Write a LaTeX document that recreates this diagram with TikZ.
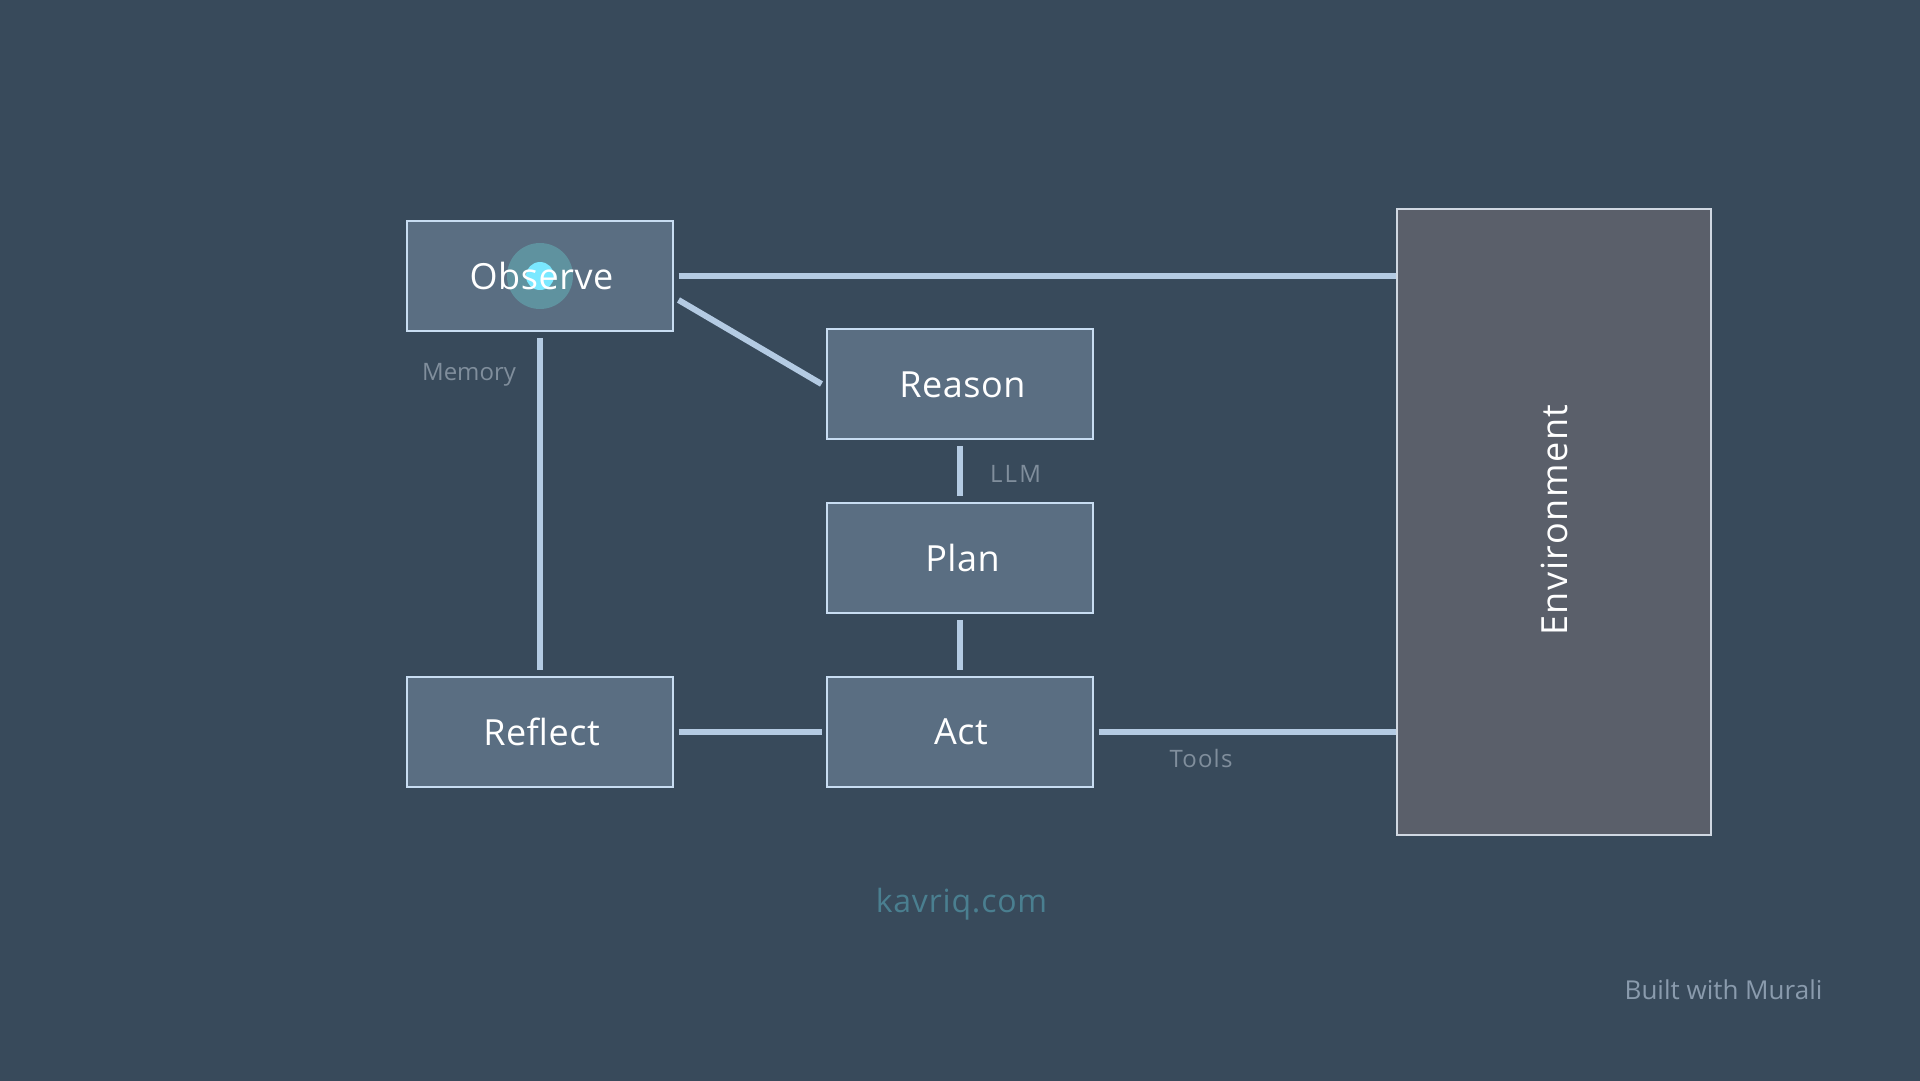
\documentclass[tikz,border=0pt]{standalone}
\usepackage{fontspec}
\setmainfont{Open Sans}
\usetikzlibrary{calc}
\definecolor{bgc}{HTML}{384A5B}
\definecolor{boxfill}{HTML}{5A6E82}
\definecolor{envfill}{HTML}{5A5F6A}
\definecolor{edgec}{HTML}{C8DDF2}
\definecolor{envedge}{HTML}{D0D8E2}
\definecolor{wirec}{HTML}{B4CBE3}
\definecolor{labc}{HTML}{808E9C}
\definecolor{builtc}{HTML}{8A9BAD}
\definecolor{halo}{HTML}{5F929F}
\definecolor{dotc}{HTML}{7AE8FF}
\definecolor{brandc}{HTML}{4A7F90}
\newcommand{\spc}[1]{\addfontfeature{LetterSpace=#1}}
\tikzset{
  stagebox/.style={draw=edgec,fill=boxfill,line width=2pt,minimum width=266pt,minimum height=110pt,inner sep=0pt},
  stagetext/.style={text=white,font=\fontsize{36}{36}\selectfont\spc{1.5},inner sep=0pt},
  wire/.style={draw=wirec,line width=6pt},
  smalllab/.style={text=labc,font=\fontsize{24}{24}\selectfont,inner sep=0pt}
}
\begin{document}
\begin{tikzpicture}[x=1pt,y=-1pt]
\useasboundingbox (0,0) rectangle (1920,1080);
\fill[bgc] (-5,-5) rectangle (1925,1085);
\node[stagebox] (obs) at (540,276) {};
\node[stagebox] (rea) at (960,384) {};
\node[stagebox] (pla) at (960,558) {};
\node[stagebox] (act) at (960,732) {};
\node[stagebox] (ref) at (540,732) {};
\node[draw=envedge,fill=envfill,line width=2pt,minimum width=314pt,minimum height=626pt,inner sep=0pt] (env) at (1554,522) {};
\fill[halo] (obs.center) circle (33pt);
\fill[dotc] (obs.center) circle (14pt);
\node[stagetext] at (541.5,276) (tobs) {Observe};
\node[stagetext] at (962.5,385) (trea) {Reason};
\node[stagetext] at (962.5,558) (tpla) {Plan};
\node[stagetext] at (961,732) (tact) {Act};
\node[stagetext] at (541.5,732) (tref) {Reflect};
\node[stagetext,font=\fontsize{36}{36}\selectfont\spc{4.4},rotate=90] at (1554,520) (tenv) {Environment};
\coordinate (o1) at ($(obs.east)+(4.5,24)$);
\coordinate (r1) at ($(rea.west)+(-4.5,0)$);
\draw[wire] ($(obs.east)+(4.5,0)$) -- (obs.east -| env.west);
\draw[wire] (o1) -- (r1);
\draw[wire] ($(obs.south)+(0,6)$) -- ($(ref.north)+(0,-6)$);
\draw[wire] ($(rea.south)+(0,6)$) -- ($(pla.north)+(0,-6)$);
\draw[wire] ($(pla.south)+(0,6)$) -- ($(act.north)+(0,-6)$);
\draw[wire] ($(ref.east)+(4.5,0)$) -- ($(act.west)+(-4.5,0)$);
\draw[wire] ($(act.east)+(4.5,0)$) -- (act.east -| env.west);
\node[smalllab] (lmem) at (469,375) {Memory};
\node[smalllab,font=\fontsize{24}{24}\selectfont\spc{9}] (lllm) at (1015.5,474) {LLM};
\node[smalllab,font=\fontsize{24}{24}\selectfont\spc{5}] (ltoo) at (1201,758) {Tools};
\node[text=brandc,font=\fontsize{32}{32}\selectfont\spc{2.5},inner sep=0pt] (brand) at (961.5,904) {kavriq.com};
\node[text=builtc,font=\fontsize{26}{26}\selectfont,inner sep=0pt] (built) at (1723.5,990) {Built with Murali};
\end{tikzpicture}
\end{document}
